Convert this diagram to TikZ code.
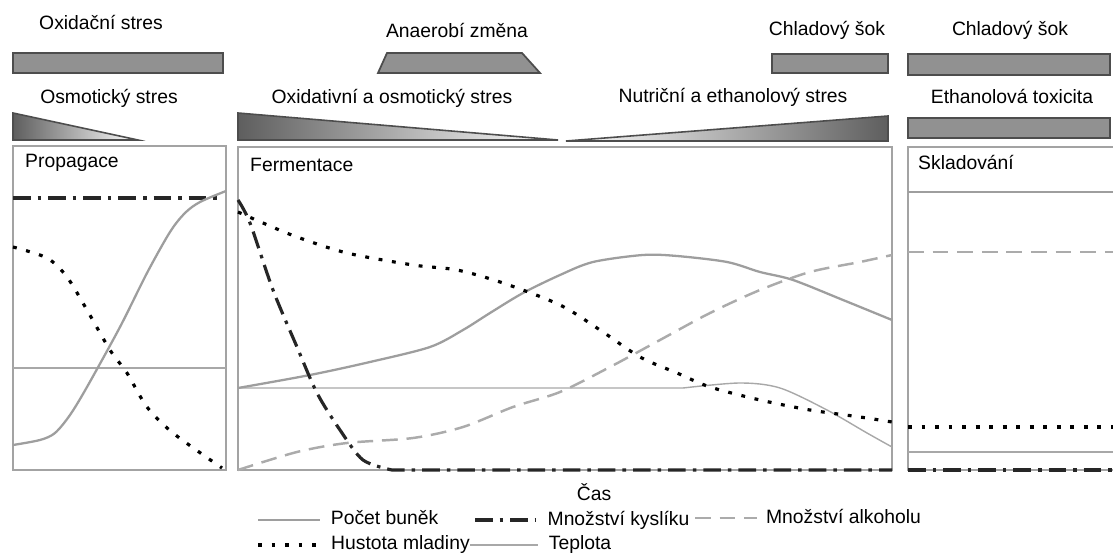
\documentclass[tikz,border=0pt]{standalone}
\usepackage{fontspec}
\setmainfont{Liberation Sans}
\usetikzlibrary{positioning}
\definecolor{bargray}{HTML}{919191}
\definecolor{edgegray}{HTML}{4d4d4d}
\definecolor{wedgedark}{HTML}{5e5e5e}
\definecolor{framegray}{HTML}{a3a3a3}
\definecolor{cellgray}{HTML}{9e9e9e}
\definecolor{alcgray}{HTML}{ababab}
\definecolor{tempgray}{HTML}{a8a8a8}
\definecolor{oxyblack}{HTML}{262626}

\begin{document}
\begin{tikzpicture}[x=0.02cm, y=-0.02cm, font=\fontsize{11}{13}\selectfont,
  bar/.style={fill=bargray, draw=edgegray, line width=1pt},
  wedge/.style={draw=edgegray, line width=0.9pt},
  frame/.style={draw=framegray, line width=1pt},
  cellline/.style={cellgray, line width=1.3pt},
  oxyline/.style={oxyblack, line width=1.8pt, dash pattern=on 10pt off 4pt on 2pt off 4pt},
  wortline/.style={black, line width=1.8pt, dash pattern=on 2.2pt off 5.5pt},
  alcline/.style={alcgray, line width=1.4pt, dash pattern=on 9pt off 5pt},
  templine/.style={tempgray, line width=0.8pt},
  legtext/.style={inner sep=1pt}]
\useasboundingbox (0,0) rectangle (1113,553);

\node (oxid) at (101,22) {Oxidační stres};
\node (osmo) at (109,98) {Osmotický stres};
\node (anae) at (457,30) {Anaerobí změna};
\node (oxos) at (392,98) {Oxidativní a osmotický stres};
\node (nutr) at (733,97) {Nutriční a ethanolový stres};
\node (chlA) at (827,30) {Chladový šok};
\node (chlB) at (1010,30) {Chladový šok};
\node (etox) at (1012,96) {Ethanolová toxicita};

\filldraw[bar] (13,53) rectangle (223,73);
\filldraw[bar] (378,73) -- (387,53) -- (522,53) -- (540,73) -- cycle;
\filldraw[bar] (772,54) rectangle (888,73);
\filldraw[bar] (908,54) rectangle (1110,75);
\filldraw[bar] (908,118) rectangle (1110,138);

\path[wedge, left color=wedgedark, right color=white] (13,113) -- (138,140) -- (13,140) -- cycle;
\path[wedge, left color=wedgedark, right color=white] (238,113) -- (558,140) -- (238,140) -- cycle;
\path[wedge, left color=white, right color=wedgedark] (566,141) -- (888,116) -- (888,141) -- cycle;

\draw[frame] (13,146) rectangle (226,470);
\draw[frame] (238,147) rectangle (892,470);
\draw[frame] (1120,147) -- (908,147) -- (908,470) -- (1120,470);

\node[anchor=west] (prop) at (19,163) {Propagace};
\node[anchor=west] (ferm) at (244,165) {Fermentace};
\node[anchor=west] (sklad) at (912,162) {Skladování};

\draw[oxyline] (13,198) -- (222,198);
\draw[templine] (13,368) -- (226,368);
\draw[cellline] plot[smooth] coordinates {(13,445) (40,440) (55,433) (70,415) (87,387) (120,327) (147,273) (170,232) (185,213) (200,202) (226,191)};
\draw[wortline] plot[smooth] coordinates {(13,247) (47,258) (67,277) (87,310) (110,350) (127,373) (147,407) (173,433) (222,468)};

\draw[templine] (238,388) -- (683,388) plot[smooth] coordinates {(683,388) (740,383) (780,388) (827,410) (867,433) (892,447)};
\draw[cellline] plot[smooth] coordinates {(238,388) (310,375) (370,362) (430,347) (463,330) (490,313) (523,293) (560,275) (593,262) (643,255) (677,256) (727,262) (760,272) (793,280) (843,300) (892,320)};
\draw[alcline] plot[smooth] coordinates {(238,470) (297,452) (347,443) (413,438) (463,427) (513,407) (560,392) (610,367) (660,340) (710,313) (760,290) (810,272) (860,262) (892,255)};
\draw[wortline] plot[smooth] coordinates {(238,212) (263,223) (297,237) (347,253) (413,265) (457,270) (503,283) (560,305) (600,330) (640,357) (677,373) (710,387) (760,400) (810,410) (860,417) (892,422)};
\draw[oxyline] plot[smooth, tension=0.5] coordinates {(238,200) (250,223) (273,290) (297,347) (317,393) (340,430) (363,460) (392,470)} -- (892,470);

\draw[cellline] (908,192) -- (1113,192);
\draw[alcline] (908,252) -- (1113,252);
\draw[wortline] (908,427) -- (1113,427);
\draw[templine] (908,452) -- (1113,452);
\draw[oxyline] (908,470) -- (1113,470);

\node (cas) at (594,492) {Čas};

\coordinate (lgcellA) at (258,520);
\coordinate (lgcellB) at (320,520);
\coordinate (lgoxyA) at (475,520);
\coordinate (lgoxyB) at (535,520);
\coordinate (lgalcA) at (695,518);
\coordinate (lgalcB) at (757,518);
\coordinate (lgwortA) at (258,545);
\coordinate (lgwortB) at (322,545);
\coordinate (lgtempA) at (470,545);
\coordinate (lgtempB) at (538,545);

\draw[cellline] (lgcellA) -- (lgcellB);
\draw[oxyline] (lgoxyA) -- (lgoxyB);
\draw[alcline] (lgalcA) -- (lgalcB);
\draw[wortline] (lgwortA) -- (lgwortB);
\draw[templine] (lgtempA) -- (lgtempB);

\node[legtext, right=5pt of lgcellB, yshift=1.5pt] (lgcell) {Počet buněk};
\node[legtext, right=6pt of lgoxyB, yshift=-0.5pt] (lgoxy) {Množství kyslíku};
\node[legtext, right=4pt of lgalcB, yshift=1pt] (lgalc) {Množství alkoholu};
\node[legtext, right=4pt of lgwortB] (lgwort) {Hustota mladiny};
\node[legtext, right=5pt of lgtempB] (lgtemp) {Teplota};
\end{tikzpicture}
\end{document}
